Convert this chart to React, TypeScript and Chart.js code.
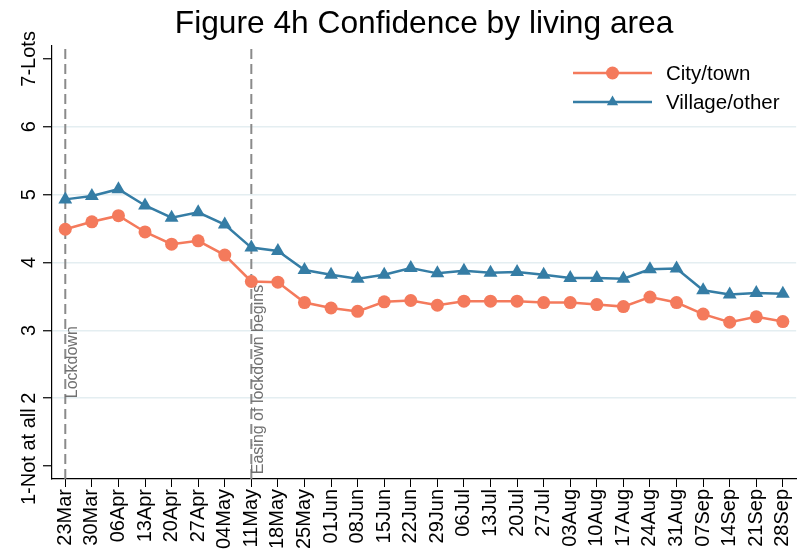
import React, { useEffect, useRef } from "react";
import { Chart, registerables } from "chart.js";

Chart.register(...registerables);

const titleText = "Figure 4h Confidence by living area";
const categories = ["23Mar","30Mar","06Apr","13Apr","20Apr","27Apr","04May","11May","18May","25May","01Jun","08Jun","15Jun","22Jun","29Jun","06Jul","13Jul","20Jul","27Jul","03Aug","10Aug","17Aug","24Aug","31Aug","07Sep","14Sep","21Sep","28Sep"];
const cityTown = [4.49,4.60,4.69,4.45,4.27,4.32,4.11,3.72,3.71,3.41,3.33,3.28,3.42,3.44,3.37,3.43,3.43,3.43,3.41,3.41,3.38,3.35,3.49,3.41,3.24,3.12,3.20,3.13];
const villageOther = [4.93,4.98,5.08,4.84,4.66,4.74,4.56,4.22,4.17,3.89,3.82,3.76,3.82,3.92,3.84,3.88,3.85,3.86,3.82,3.77,3.77,3.76,3.90,3.91,3.59,3.53,3.55,3.54];
const yTickValues = [1,2,3,4,5,6,7];
const yTickLabels = ["1-Not at all","2","3","4","5","6","7-Lots"];
const eventLines = [
  { category: "23Mar", label: "Lockdown", atValue: 2.0 },
  { category: "11May", label: "Easing of lockdown begins", atValue: 0.88 },
];

const FONT = "'Liberation Sans', Arial, Helvetica, sans-serif";
const CITY_COLOR = "#f47a5c";
const VILLAGE_COLOR = "#357da5";

const customPlugin = {
  id: "custom",
  beforeDatasetsDraw(chart: any) {
    const { ctx, chartArea, scales } = chart;
    const x = scales.x;
    const y = scales.y;
    ctx.save();
    for (const ev of eventLines) {
      const idx = categories.indexOf(ev.category);
      const px = x.getPixelForValue(idx);
      ctx.strokeStyle = "#8a8a8a";
      ctx.lineWidth = 2;
      ctx.setLineDash([10, 5]);
      ctx.beginPath();
      ctx.moveTo(px, chartArea.top + 3);
      ctx.lineTo(px, chartArea.bottom);
      ctx.stroke();
      ctx.setLineDash([]);
      ctx.save();
      const py = y.getPixelForValue(ev.atValue);
      ctx.translate(px + 12, py);
      ctx.rotate(-Math.PI / 2);
      ctx.fillStyle = "#707070";
      ctx.font = `16px ${FONT}`;
      ctx.textAlign = "left";
      ctx.textBaseline = "alphabetic";
      ctx.fillText(ev.label, 0, 0);
      ctx.restore();
    }
    ctx.restore();
  },
  afterDraw(chart: any) {
    const { ctx, chartArea, scales } = chart;
    const y = scales.y;
    ctx.save();
    // Title
    ctx.fillStyle = "#000";
    ctx.font = `31.7px ${FONT}`;
    ctx.textAlign = "center";
    ctx.textBaseline = "alphabetic";
    ctx.fillText(titleText, (chartArea.left + chartArea.right) / 2, 33);
    // Y tick labels rotated
    ctx.font = `20px ${FONT}`;
    for (let i = 0; i < yTickValues.length; i++) {
      const py = y.getPixelForValue(yTickValues[i]);
      const w = ctx.measureText(yTickLabels[i]).width;
      let start = py + w / 2;
      if (start > 505) start = 505;
      ctx.save();
      ctx.translate(35, start);
      ctx.rotate(-Math.PI / 2);
      ctx.textAlign = "left";
      ctx.textBaseline = "alphabetic";
      ctx.fillText(yTickLabels[i], 0, 0);
      ctx.restore();
    }
    // Legend
    const ds = chart.data.datasets;
    const lx0 = 573, lx1 = 652, tx = 666;
    const rows = [73, 102];
    ctx.font = `20.5px ${FONT}`;
    ds.forEach((d: any, i: number) => {
      const ly = rows[i];
      ctx.strokeStyle = d.borderColor;
      ctx.lineWidth = 2.5;
      ctx.beginPath();
      ctx.moveTo(lx0, ly);
      ctx.lineTo(lx1, ly);
      ctx.stroke();
      ctx.fillStyle = d.borderColor;
      const cx = (lx0 + lx1) / 2;
      if (d.pointStyle === "triangle") {
        const r = 6.5;
        ctx.beginPath();
        ctx.moveTo(cx, ly - r);
        ctx.lineTo(cx + r * 0.866, ly + r * 0.5);
        ctx.lineTo(cx - r * 0.866, ly + r * 0.5);
        ctx.closePath();
        ctx.fill();
      } else {
        ctx.beginPath();
        ctx.arc(cx, ly, 6.5, 0, Math.PI * 2);
        ctx.fill();
      }
      ctx.fillStyle = "#000";
      ctx.textAlign = "left";
      ctx.textBaseline = "middle";
      ctx.fillText(d.label, tx, ly + 1);
    });
    ctx.restore();
  },
};

export default function App() {
  const canvasRef = useRef<HTMLCanvasElement | null>(null);
  useEffect(() => {
    if (!canvasRef.current) return;
    const chart = new Chart(canvasRef.current, {
      type: "line",
      data: {
        labels: categories,
        datasets: [
          {
            label: "City/town",
            data: cityTown,
            borderColor: CITY_COLOR,
            backgroundColor: CITY_COLOR,
            borderWidth: 2.5,
            pointStyle: "circle",
            pointRadius: 6.5,
            pointBorderWidth: 0,
            pointBackgroundColor: CITY_COLOR,
            tension: 0,
          },
          {
            label: "Village/other",
            data: villageOther,
            borderColor: VILLAGE_COLOR,
            backgroundColor: VILLAGE_COLOR,
            borderWidth: 2.5,
            pointStyle: "triangle",
            pointRadius: 8,
            pointBorderWidth: 0,
            pointBackgroundColor: VILLAGE_COLOR,
            tension: 0,
          },
        ],
      },
      options: {
        responsive: false,
        animation: false,
        events: [],
        layout: { padding: { top: 46, right: 7, left: 0, bottom: 0 } },
        plugins: {
          legend: { display: false },
          title: { display: false },
          tooltip: { enabled: false },
        },
        scales: {
          x: {
            type: "category",
            offset: true,
            grid: {
              display: true,
              drawOnChartArea: false,
              drawTicks: true,
              tickLength: 8,
              tickColor: "#000",
              offset: false,
            },
            border: { display: true, color: "#000", width: 1.2 },
            ticks: {
              autoSkip: false,
              minRotation: 90,
              maxRotation: 90,
              padding: 2,
              color: "#000",
              font: { family: FONT, size: 20 },
            },
            afterFit(scale: any) {
              scale.height = 76;
            },
          },
          y: {
            type: "linear",
            min: 0.81,
            max: 7.19,
            afterBuildTicks(scale: any) {
              scale.ticks = yTickValues.map((v) => ({ value: v }));
            },
            grid: {
              color: (ctx: any) =>
                ctx.tick && ctx.tick.value >= 2 && ctx.tick.value <= 6 ? "#e4eef1" : "rgba(0,0,0,0)",
              lineWidth: 1.5,
              drawTicks: true,
              tickLength: 9,
              tickColor: "#000",
              tickWidth: 1.2,
            },
            border: { display: true, color: "#000", width: 1.2 },
            ticks: { display: false },
            afterFit(scale: any) {
              scale.width = 52;
            },
          },
        },
      },
      plugins: [customPlugin],
    });
    return () => chart.destroy();
  }, []);
  return (
    <div style={{ position: "fixed", left: 0, top: 0, width: 809, height: 555, background: "#fff" }}>
      <canvas ref={canvasRef} width={809} height={555} style={{ width: 809, height: 555, display: "block" }} />
    </div>
  );
}
